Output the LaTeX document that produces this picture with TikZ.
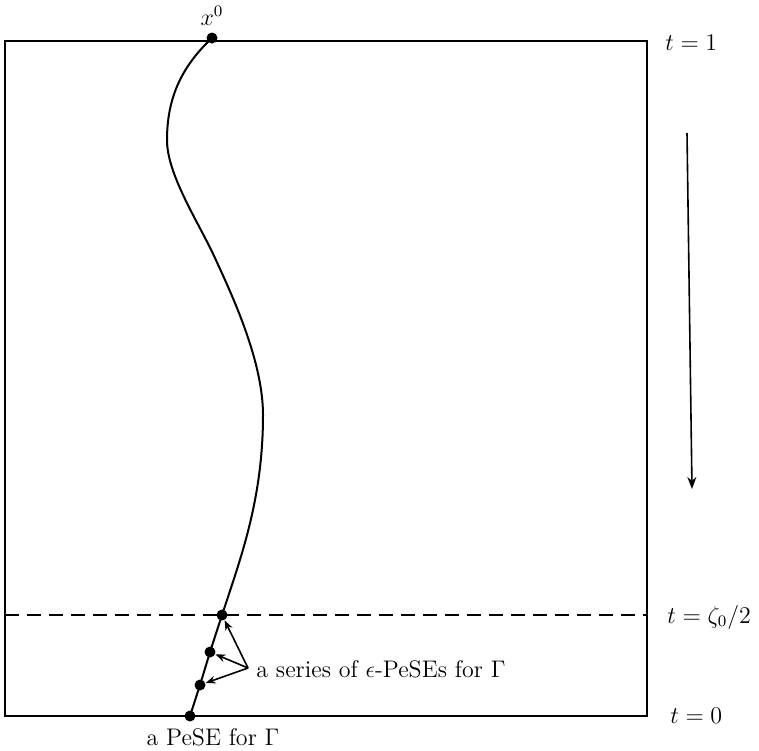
\documentclass[tikz,border=0pt]{standalone}
\usetikzlibrary{arrows.meta}
\begin{document}
\begin{tikzpicture}[x=0.5pt,y=-0.5pt,
  dot/.style={circle,fill=black,inner sep=0pt,minimum size=5.5pt},
  frame/.style={line width=1pt},
  pathline/.style={line width=1pt},
  lbl/.style={inner sep=0pt,font=\large},
  ptr/.style={line width=0.8pt,-{Stealth[length=5pt,width=3.8pt]}}]
\useasboundingbox (0,0) rectangle (759,750);
% frame
\coordinate (tl) at (5,41);
\coordinate (br) at (647,716);
\draw[frame] (tl) rectangle (br);
% dashed line
\coordinate (dl) at (5,615);
\coordinate (dr) at (647,615);
\draw[frame,dash pattern=on 7pt off 4pt] (dl) -- (dr);
% dots
\node[dot] (top) at (212,38) {};
\node[dot] (d1) at (222,615) {};
\node[dot] (d2) at (210,652) {};
\node[dot] (d3) at (200,685) {};
\node[dot] (d0) at (190,716) {};
% curve
\coordinate (cmin) at (167,140);
\coordinate (cinf) at (215,258);
\coordinate (cmax) at (263,415);
\draw[pathline] (top.center) .. controls (180,68) and (167,100) .. (cmin)
  .. controls (167,175) and (199,223) .. (cinf)
  .. controls (231,293) and (263,360) .. (cmax)
  .. controls (263,500) and (240,560) .. (d1.center);
\draw[pathline] (d1.center) -- (d2.center) -- (d3.center) -- (d0.center);
% labels
\node[lbl,anchor=south] (x0) at (212,26) {$x^0$};
\node[lbl,anchor=west] (t1) at (665,43) {$t=1$};
\node[lbl,anchor=west] (tz) at (667,617) {$t=\zeta_0/2$};
\node[lbl,anchor=west] (t0) at (670,716) {$t=0$};
\node[lbl,anchor=north] (pese) at (213,728) {a PeSE for $\Gamma$};
\node[lbl,anchor=west] (ser) at (256,669) {a series of $\epsilon$-PeSEs for $\Gamma$};
\coordinate (s) at (248,668);
\draw[ptr] (s) -- (d1);
\draw[ptr] (s) -- (d2);
\draw[ptr] (s) -- (d3);
% time arrow
\coordinate (ta) at (687,133);
\coordinate (tb) at (692,489);
\draw[line width=0.8pt,-{Stealth[length=6pt,width=4.5pt]}] (ta) -- (tb);
\end{tikzpicture}
\end{document}
